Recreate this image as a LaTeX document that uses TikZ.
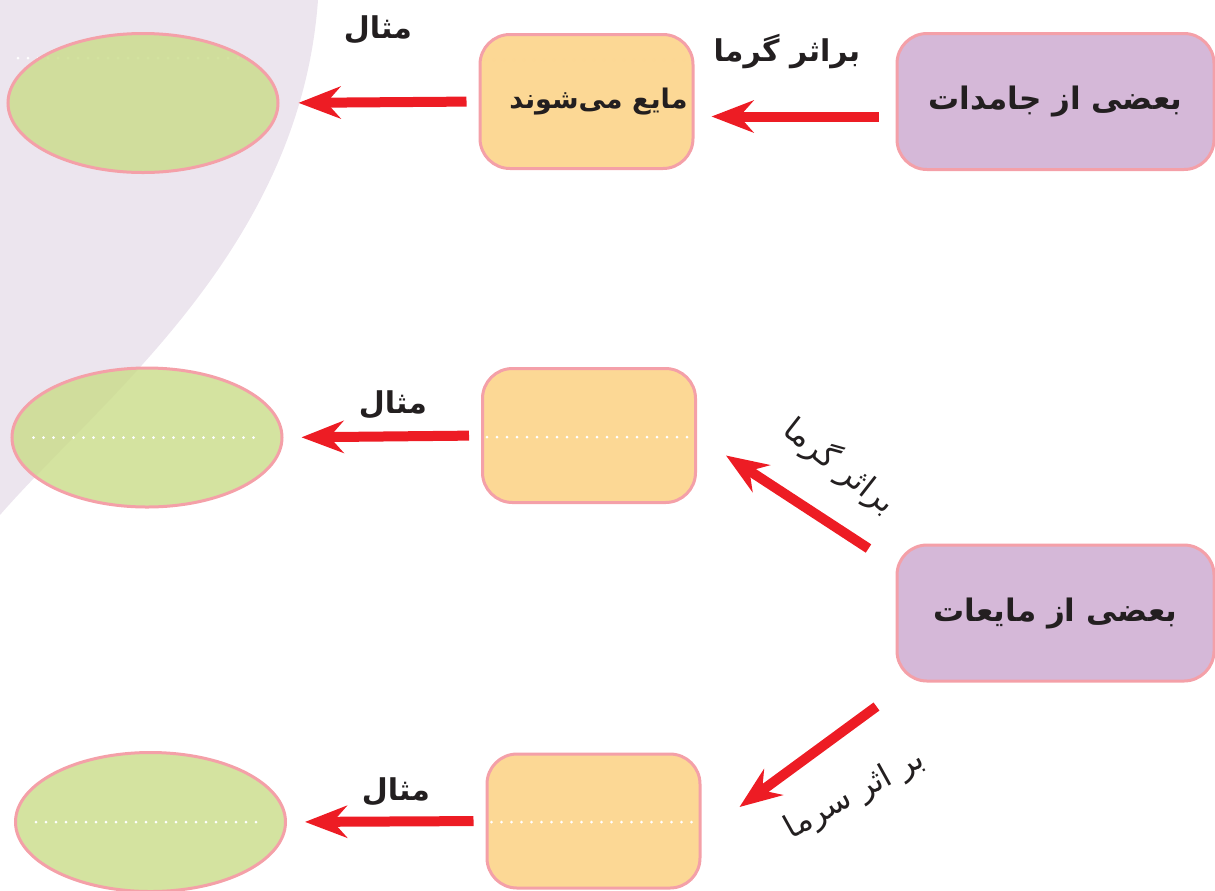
\documentclass[tikz,border=0pt]{standalone}
\usepackage{fontspec}
\usepackage{tikz}
\usetikzlibrary{arrows.meta,shapes.geometric}
\newfontfamily\arabicfont[Script=Arabic]{DejaVu Sans}
\TeXXeTstate=1

\definecolor{bgcircle}{RGB}{236,229,238}
\definecolor{edgepink}{RGB}{244,160,168}
\definecolor{groupfill}{RGB}{213,184,216}
\definecolor{statefill}{RGB}{252,209,130}
\definecolor{answerfill}{RGB}{201,220,136}
\definecolor{arrowred}{RGB}{237,28,36}
\definecolor{inkblack}{RGB}{35,31,32}

\tikzset{
  groupbox/.style={draw=edgepink, line width=1.5pt, rounded corners=15pt, fill=groupfill,
    minimum width=158.5pt, minimum height=68pt, inner sep=0pt, text=inkblack,
    font=\arabicfont\bfseries\fontsize{15.5}{19}\selectfont},
  statebox/.style={draw=edgepink, line width=1.5pt, rounded corners=15pt, fill=statefill,
    fill opacity=0.85, text opacity=1, minimum width=106.5pt, minimum height=67pt,
    inner sep=0pt, text=inkblack, font=\arabicfont\bfseries\fontsize{13.5}{17}\selectfont},
  answer/.style={draw=edgepink, line width=1.5pt, ellipse, fill=answerfill, fill opacity=0.8,
    minimum width=135pt, minimum height=69.5pt, inner sep=0pt},
  redarrow/.style={draw=arrowred, line width=5pt, -{Stealth[length=21pt,width=16pt,inset=7pt]}},
  dotline/.style={draw=white, line width=1.5pt, line cap=round, dash pattern=on 0pt off 5pt},
  tag/.style={text=inkblack, font=\arabicfont\bfseries\fontsize{15}{18}\selectfont},
  sidetag/.style={text=inkblack, font=\arabicfont\fontsize{16}{19}\selectfont},
}

\begin{document}
\begin{tikzpicture}[x=0.5pt,y=-0.5pt]
\useasboundingbox (0,0) rectangle (1215,890);

\path[fill=bgcircle] (0,0) -- (318,0) .. controls (300,250) and (100,400) .. (0,515) -- cycle;
\path[dotline] (18,58) -- (245,58);
\path[dotline] (484,60) -- (684,60);

\node[answer] (e1) at (143,103) {};
\node[statebox] (s1) at (586.5,101.5) {\hspace{12pt}\beginR مایع می‌شوند\endR};
\node[groupbox] (g1) at (1055.5,101.5) {\beginR بعضی از جامدات\endR};
\path[redarrow, shorten <=8.5pt, shorten >=8.5pt] ([yshift=-7.5pt]g1.west) -- ([yshift=-7.5pt]s1.east);
\path[redarrow, shorten <=6pt, shorten >=9.5pt] (s1.west) -- (e1.east);
\node[tag] (t1) at (787,52) {\beginR براثر گرما\endR};
\node[tag] (m1) at (378,30) {\beginR مثال\endR};

\node[answer] (e2) at (147,437.5) {};
\node[statebox] (s2) at (589,435.5) {};
\node[groupbox] (g2) at (1055.5,613) {\beginR بعضی از مایعات\endR};
\path[dotline] ([xshift=3pt,yshift=-0.75pt]s2.west) -- ([xshift=-3pt,yshift=-0.75pt]s2.east);
\path[dotline] ([xshift=11.5pt]e2.west) -- ([xshift=-11pt]e2.east);
\path[redarrow, shorten <=6pt, shorten >=9pt] (s2.west) -- (e2.east);
\node[tag] (m2) at (393,405) {\beginR مثال\endR};
\path[redarrow] ([shift={(-27,5)}]g2.north west) -- ([shift={(29,20)}]s2.east);
\node[sidetag, rotate=-38] (t2) at (840,466) {\beginR براثر گرما\endR};

\node[answer] (e3) at (150.5,822) {};
\node[statebox] (s3) at (593.5,821) {};
\path[dotline] ([xshift=3pt,yshift=-0.5pt]s3.west) -- ([xshift=-3pt,yshift=-0.5pt]s3.east);
\path[dotline] ([xshift=11pt]e3.west) -- ([xshift=-12pt]e3.east);
\path[redarrow, shorten <=6pt, shorten >=9pt] (s3.west) -- (e3.east);
\node[tag] (m3) at (396,792) {\beginR مثال\endR};
\path[redarrow] ([shift={(-19,24)}]g2.south west) -- ([shift={(38,-14)}]s3.east);
\node[sidetag, rotate=29] (t3) at (855,795) {\beginR بر اثر سرما\endR};
\end{tikzpicture}
\end{document}
